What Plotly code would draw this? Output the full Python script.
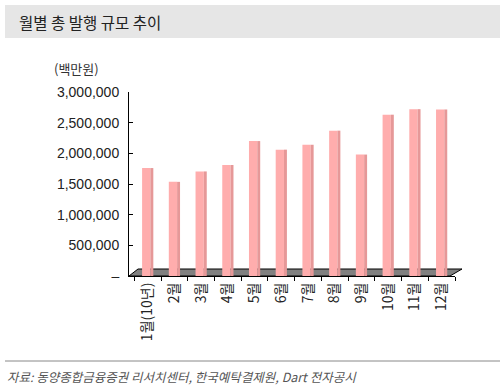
import plotly.graph_objects as go

months = ["1월(10년)", "2월", "3월", "4월", "5월", "6월", "7월", "8월", "9월", "10월", "11월", "12월"]
issuance = [1760000, 1535000, 1705000, 1810000, 2200000, 2060000, 2140000, 2370000, 1980000, 2630000, 2720000, 2715000]
ytick_vals = [0, 500000, 1000000, 1500000, 2000000, 2500000, 3000000]
ytick_text = ["–", "500,000", "1,000,000", "1,500,000", "2,000,000", "2,500,000", "3,000,000"]

W, H = 500, 387
L, R, T, B = 129, 45, 92, 111
pw, ph = W - L - R, H - T - B

def px(x):
    return (x - L) / pw

def py(y):
    return (H - B - y) / ph

KR = "Noto Sans CJK KR"
NUM = "Liberation Sans, Arial, Noto Sans CJK KR"

fig = go.Figure()
fig.add_trace(go.Bar(x=months, y=issuance, width=0.31, offset=-0.21,
                     marker=dict(color="#FFADAD", line=dict(width=0)),
                     hoverinfo="x+y"))
fig.add_trace(go.Bar(x=months, y=issuance, width=0.11, offset=0.10,
                     marker=dict(color="#E69898", line=dict(width=0)),
                     hoverinfo="skip"))

shapes = [
    dict(type="rect", xref="paper", yref="paper", x0=px(5), x1=px(500), y0=py(38), y1=py(5),
         fillcolor="#E6E6E6", line=dict(width=0), layer="below"),
    dict(type="path", xref="paper", yref="paper",
         path=f"M {px(129)},{py(276)} L {px(450)},{py(276)} L {px(462)},{py(269)} L {px(138)},{py(269)} Z",
         fillcolor="#808080", line=dict(color="#000000", width=1), layer="below"),
    dict(type="line", xref="paper", yref="paper", x0=px(5), x1=px(500), y0=py(361), y1=py(361),
         line=dict(color="#888888", width=1)),
]

annotations = [
    dict(text="월별 총 발행 규모 추이", xref="paper", yref="paper", x=px(17), y=py(22),
         xanchor="left", yanchor="middle", showarrow=False,
         font=dict(family=KR, size=15.5, color="#222222")),
    dict(text="(백만원)", xref="paper", yref="paper", x=px(52), y=py(68),
         xanchor="left", yanchor="middle", showarrow=False,
         font=dict(family=KR, size=13, color="#333333")),
    dict(text="<i>자료: 동양종합금융증권 리서치센터, 한국예탁결제원, Dart 전자공시</i>", xref="paper", yref="paper",
         x=px(5), y=py(376), xanchor="left", yanchor="middle", showarrow=False,
         font=dict(family=KR, size=12.5, color="#555555")),
]

fig.update_layout(
    width=W, height=H,
    margin=dict(l=L, r=R, t=T, b=B, autoexpand=False),
    paper_bgcolor="white", plot_bgcolor="rgba(0,0,0,0)",
    barmode="overlay", showlegend=False,
    shapes=shapes, annotations=annotations,
    xaxis=dict(range=[-0.7, 11.5], showgrid=False, showline=True, linecolor="#000000", linewidth=1,
               ticks="outside", ticklen=4, tickcolor="#000000", tickson="boundaries",
               tickangle=-90, tickfont=dict(family=KR, size=14, color="#222222"),
               fixedrange=True),
    yaxis=dict(range=[0, 3000000], tickvals=ytick_vals, ticktext=ytick_text, showgrid=False,
               zeroline=False, showline=True, linecolor="#000000", linewidth=1,
               ticks="inside", ticklen=4, tickcolor="#000000",
               tickfont=dict(family=NUM, size=14, color="#222222"), ticklabelstandoff=6,
               fixedrange=True),
)

fig.write_html("out.html", config={"displayModeBar": False},
               post_script="document.body.style.margin='0';document.body.style.overflow='hidden';")
